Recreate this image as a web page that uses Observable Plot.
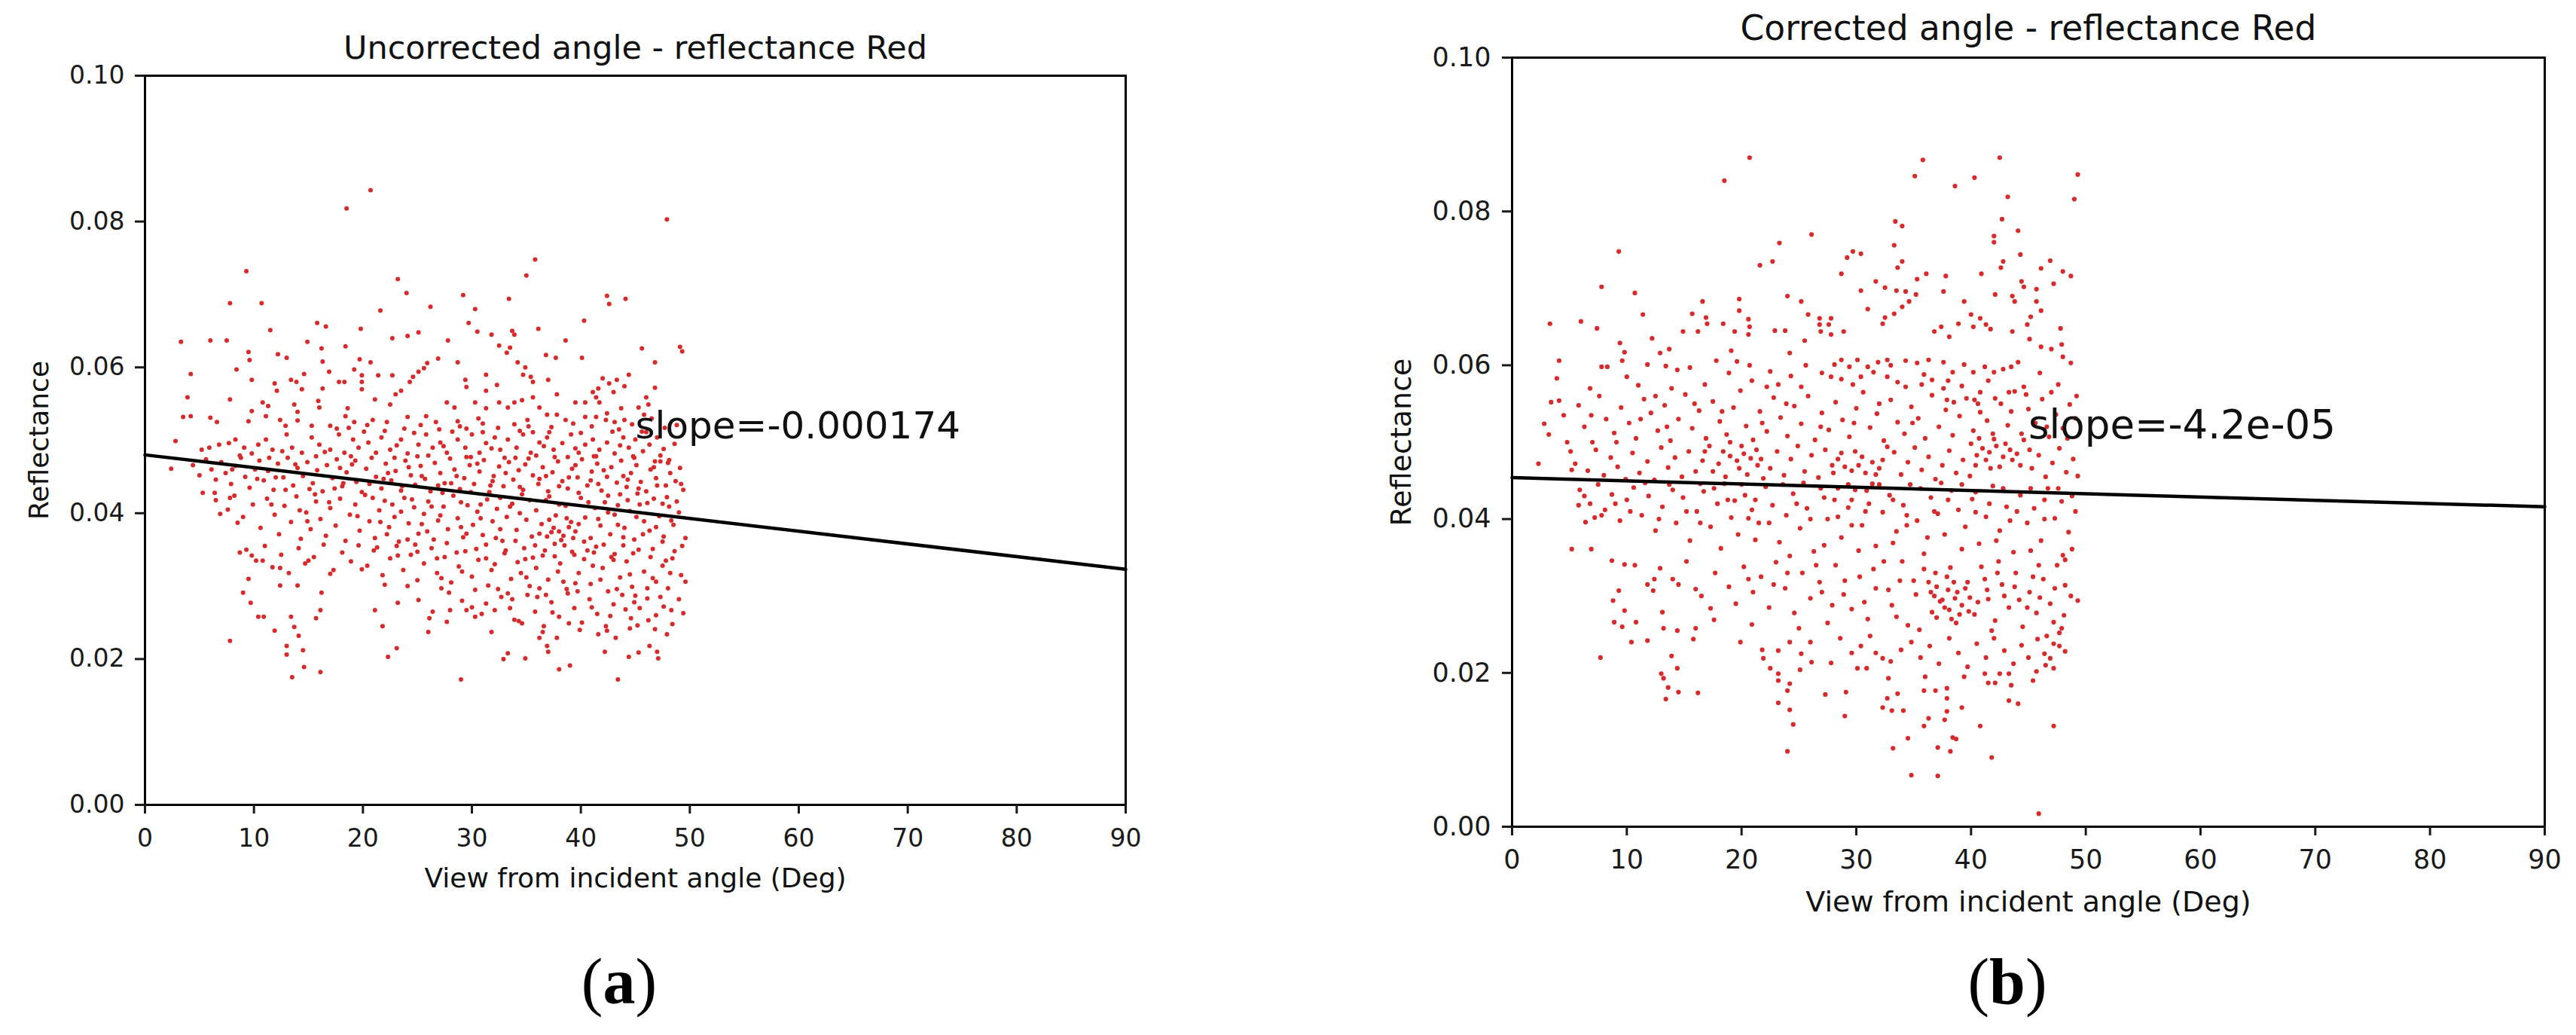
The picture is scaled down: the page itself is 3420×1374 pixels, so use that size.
<!DOCTYPE html>
<html><head><meta charset="utf-8">
<script src="https://cdn.jsdelivr.net/npm/d3@7"></script>
<script src="https://cdn.jsdelivr.net/npm/@observablehq/plot@0.6"></script>
<style>
html,body{margin:0;padding:0;background:#fff;}
#wrap{position:relative;width:3420px;height:1374px;overflow:hidden;background:#fff;}
#wrap > svg{position:absolute;top:0;}
</style></head><body><div id="wrap"></div>
<script>
const xTicks = [0,10,20,30,40,50,60,70,80,90];
const yTicks = [0,0.02,0.04,0.06,0.08,0.10];
const titles = ["Uncorrected angle - reflectance Red", "Corrected angle - reflectance Red"];
const xLabel = "View from incident angle (Deg)";
const yLabel = "Reflectance";
const slopeLabels = ["slope=-0.000174", "slope=-4.2e-05"];
const panelTags = ["a", "b"];
const fitUncorrected = [[0,0.0480],[90,0.0323]];
const fitCorrected = [[0,0.0454],[90,0.0416]];

// (angle in degrees, reflectance) — panel (a)
const uncorrected = [
[20.7,.0843],[18.5,.0818],[47.9,.0803],[9.3,.0732],[35.8,.0748],[35.0,.0726],[23.2,.0721],[24.0,.0702],[7.8,.0688],[10.7,.0688],[29.2,.0699],[33.4,.0694],[42.4,.0698],[42.6,.0687],[44.1,.0694],[30.3,.0680],[26.2,.0683],[21.6,.0678],[40.3,.0664],[36.1,.0653],[33.7,.0650],[33.9,.0645],[29.7,.0661],[30.5,.0649],[31.8,.0645],[15.8,.0661],[16.6,.0656],[19.8,.0653],[11.5,.0651],[3.3,.0635],[6.0,.0637],[7.5,.0637],[14.9,.0635],[16.2,.0626],[18.4,.0629],[22.7,.0640],[24.1,.0643],[25.1,.0648],[27.8,.0637],[38.6,.0637],[45.6,.0626],[49.1,.0628],[49.3,.0622],[46.8,.0607],[46.8,.0572],[40.1,.0613],[37.7,.0613],[36.8,.0617],[33.5,.0627],[33.2,.0620],[32.5,.0630],[26.9,.0612],[28.7,.0607],[4.2,.0591],[8.4,.0597],[9.5,.0621],[9.6,.0610],[12.2,.0618],[13.0,.0613],[3.9,.0559],[7.8,.0556],[3.5,.0532],[4.2,.0533],[6.0,.0531],[6.6,.0525],[9.5,.0526],[44.4,.0590],[42.0,.0585],[42.6,.0578],[43.3,.0583],[44.0,.0574],[41.6,.0571],[43.0,.0566],
[9.8,.0583],[11.9,.0578],[12.1,.0568],[13.4,.0583],[13.9,.0580],[14.4,.0570],[14.6,.0591],[16.3,.0608],[16.9,.0594],[16.3,.0571],[17.8,.0580],[18.3,.0580],[19.7,.0611],[20.7,.0607],[19.2,.0597],[19.9,.0589],[19.9,.0580],[19.9,.0570],[21.4,.0589],[22.7,.0589],[23.0,.0563],[23.5,.0568],[24.3,.0580],[24.6,.0587],[25.1,.0594],[25.6,.0599],[25.9,.0606],[21.1,.0556],[22.5,.0549],[18.6,.0544],[15.9,.0554],[16.0,.0545],[13.7,.0549],[14.0,.0539],[10.8,.0552],[11.3,.0547],[9.8,.0540],[29.4,.0583],[29.5,.0573],[31.3,.0590],[32.3,.0576],[31.3,.0568],[34.2,.0607],[34.9,.0600],[34.7,.0590],[35.4,.0587],[35.6,.0580],[37.0,.0583],[37.8,.0563],[35.6,.0559],[41.1,.0566],[41.4,.0559],[41.7,.0552],[39.5,.0552],[40.4,.0552],[46.0,.0559],[46.2,.0549],[45.3,.0545],[27.7,.0552],[28.4,.0545],[30.3,.0552],[31.3,.0544],[32.5,.0552],[33.3,.0545],[33.9,.0552],[34.6,.0555],[35.1,.0528],[35.2,.0519],[36.2,.0545],[36.9,.0535],[37.8,.0535],[38.6,.0528],[40.4,.0532],[41.4,.0532],[42.4,.0537],[43.7,.0544],[44.0,.0528],[43.1,.0525],[45.8,.0535],[11.1,.0533],[12.4,.0528],[12.9,.0520],[14.0,.0527],[15.3,.0520],[17.0,.0520],[17.6,.0516],[18.4,.0533],[19.2,.0525],[20.9,.0528],[22.2,.0525],[24.1,.0532],[25.8,.0533],[26.7,.0525],[28.7,.0526],[29.5,.0516],[31.0,.0523],
[5.2,.0487],[5.9,.0490],[6.8,.0494],[7.7,.0496],[8.3,.0501],[9.1,.0490],[9.8,.0482],[10.4,.0494],[11.1,.0501],[11.7,.0487],[12.6,.0485],[13.0,.0508],[13.5,.0490],[14.4,.0483],[15.3,.0504],[16.0,.0494],[17.0,.0487],[17.8,.0508],[18.3,.0483],[19.1,.0501],[19.6,.0490],[20.5,.0497],[21.2,.0483],[21.7,.0504],[22.5,.0487],[23.5,.0501],[24.1,.0482],[25.1,.0494],[25.8,.0508],[26.4,.0490],[27.1,.0497],[27.7,.0483],[28.7,.0501],[29.4,.0490],[30.0,.0508],[30.7,.0483],[31.3,.0496],[32.1,.0504],[32.6,.0487],[33.3,.0501],[34.1,.0490],[34.7,.0508],[35.4,.0483],[36.2,.0497],[36.9,.0504],[37.5,.0487],[38.3,.0496],[39.1,.0508],[39.8,.0483],[40.4,.0494],[41.1,.0501],[41.7,.0487],[42.4,.0497],[43.1,.0482],[43.9,.0504],[44.4,.0490],[45.0,.0501],[45.7,.0485],[46.3,.0494],[47.0,.0504],[47.6,.0488],[48.1,.0473],
[18.9,.0478],[20.1,.0512],[22.9,.0476],[24.7,.0510],[26.0,.0479],[28.2,.0512],[29.9,.0477],[31.0,.0511],[33.0,.0476],[34.4,.0513],[35.9,.0479],[37.1,.0511],[38.8,.0477],[40.0,.0510],[41.4,.0478],[42.9,.0512],[44.8,.0478],[46.0,.0511],[47.3,.0479],[48.6,.0495],[43.6,.0493],[39.5,.0489],[36.6,.0492],[31.8,.0489],[27.4,.0492],[23.1,.0493],[15.7,.0478],[11.4,.0476],[8.7,.0479],
[4.4,.0466],[5.0,.0452],[5.6,.0474],[6.1,.0460],[6.5,.0446],[7.0,.0470],[7.4,.0455],[7.9,.0440],[8.3,.0465],[8.8,.0476],[9.2,.0450],[9.6,.0435],[10.1,.0460],[10.5,.0472],[10.9,.0445],[11.3,.0458],[11.8,.0432],[12.2,.0468],[12.7,.0449],[13.1,.0476],[13.6,.0438],[14.0,.0462],[14.5,.0451],[14.9,.0470],[15.4,.0441],[15.8,.0459],[16.3,.0430],[16.7,.0466],[17.2,.0448],[17.6,.0474],[18.1,.0437],[18.5,.0456],[19.0,.0467],[19.4,.0443],[19.9,.0429],[20.3,.0461],[20.8,.0476],[21.2,.0450],[21.7,.0434],[22.1,.0468],[22.6,.0445],[23.0,.0458],[23.5,.0431],[23.9,.0472],[24.4,.0452],[24.8,.0439],[25.3,.0465],[25.7,.0447],[26.2,.0430],[26.6,.0469],[27.1,.0455],[27.5,.0441],[28.0,.0475],[28.4,.0460],[28.9,.0433],[29.3,.0448],[29.8,.0466],[30.2,.0440],[30.7,.0457],[31.1,.0473],[31.6,.0429],[32.0,.0451],[32.5,.0464],[32.9,.0437],[33.4,.0470],[33.8,.0446],[34.3,.0459],[34.7,.0432],[35.2,.0475],[35.6,.0452],[36.1,.0440],[36.5,.0463],[37.0,.0430],[37.4,.0456],[37.9,.0471],[38.3,.0444],[38.8,.0434],[39.2,.0461],[39.7,.0449],[40.1,.0474],[40.6,.0438],[41.0,.0457],[41.5,.0468],[41.9,.0431],[42.4,.0450],[42.8,.0463],[43.3,.0442],[43.7,.0472],[44.2,.0436],[44.6,.0455],[45.1,.0466],[45.5,.0443],[46.0,.0430],[46.4,.0460],[46.9,.0448],[47.3,.0471],[47.8,.0438],[48.2,.0455],[48.7,.0444],[49.1,.0462],[49.4,.0432],
[15.1,.0433],[17.9,.0462],[20.6,.0440],[22.3,.0455],[24.2,.0463],[26.9,.0438],[28.6,.0451],[30.5,.0468],[31.9,.0444],[33.1,.0455],[34.9,.0467],[36.8,.0451],[38.0,.0437],[39.5,.0466],[40.9,.0445],[42.1,.0459],[43.9,.0451],[45.3,.0434],[46.7,.0463],[48.0,.0469],[44.9,.0476],[41.2,.0478],[37.6,.0477],[34.0,.0476],[29.5,.0477],[25.0,.0478],
[6.5,.0418],[7.6,.0405],[8.2,.0424],[9.0,.0395],[9.9,.0412],[10.6,.0380],[11.2,.0420],[11.9,.0398],[12.3,.0371],[12.8,.0410],[13.4,.0388],[13.9,.0423],[14.3,.0365],[14.8,.0401],[15.2,.0378],[15.7,.0416],[16.1,.0392],[16.6,.0369],[17.0,.0407],[17.5,.0383],[17.9,.0420],[18.4,.0362],[18.8,.0398],[19.3,.0412],[19.7,.0376],[20.2,.0425],[20.6,.0389],[21.1,.0366],[21.5,.0404],[22.0,.0417],[22.4,.0381],[22.9,.0395],[23.3,.0361],[23.8,.0421],[24.2,.0386],[24.7,.0408],[25.1,.0372],[25.6,.0399],[26.0,.0416],[26.5,.0364],[26.9,.0390],[27.4,.0409],[27.8,.0378],[28.3,.0424],[28.7,.0393],[29.2,.0367],[29.6,.0411],[30.1,.0384],[30.5,.0402],[31.0,.0370],[31.4,.0419],[31.9,.0389],[32.3,.0406],[32.8,.0362],[33.2,.0395],[33.7,.0413],[34.1,.0377],[34.6,.0426],[35.0,.0391],[35.5,.0368],[35.9,.0404],[36.4,.0385],[36.8,.0418],[37.3,.0374],[37.7,.0397],[38.2,.0363],[38.6,.0410],[39.1,.0388],[39.5,.0375],[40.0,.0421],[40.4,.0394],[40.9,.0366],[41.3,.0407],[41.8,.0383],[42.2,.0415],[42.7,.0371],[43.1,.0398],[43.6,.0426],[44.0,.0380],[44.5,.0403],[44.9,.0364],[45.4,.0412],[45.8,.0389],[46.3,.0376],[46.7,.0420],[47.2,.0396],[47.6,.0368],[48.1,.0409],[48.5,.0384],[49.0,.0401],
[36.2,.0372],[36.9,.0368],[37.5,.0380],[38.0,.0375],[38.4,.0369],[38.9,.0381],[39.3,.0366],[37.1,.0391],[38.7,.0393],[39.8,.0385],[21.6,.0388],[23.5,.0402],[25.4,.0385],[27.1,.0397],[29.0,.0381],[30.8,.0393],[32.6,.0378],[34.4,.0400],[41.6,.0392],[43.4,.0384],[45.1,.0395],[46.9,.0381],[48.3,.0390],[42.5,.0401],[44.3,.0418],[47.5,.0413],
[9.3,.0350],[10.2,.0335],[11.0,.0355],[11.7,.0326],[12.5,.0343],[13.2,.0318],[14.1,.0352],[14.7,.0331],[15.5,.0340],[16.4,.0357],[17.3,.0322],[18.1,.0346],[18.9,.0334],[19.6,.0356],[20.4,.0328],[21.0,.0349],[21.8,.0315],[22.5,.0338],[23.1,.0355],[23.7,.0322],[24.4,.0343],[25.0,.0308],[25.6,.0331],[26.3,.0352],[26.8,.0318],[27.5,.0340],[28.1,.0305],[28.8,.0327],[29.4,.0348],[30.0,.0313],[30.6,.0336],[31.3,.0357],[31.8,.0322],[32.4,.0296],[33.0,.0345],[33.6,.0310],[34.2,.0333],[34.8,.0352],[35.3,.0300],[35.9,.0325],[36.5,.0342],[37.0,.0309],[37.6,.0358],[38.1,.0331],[38.7,.0296],[39.2,.0347],[39.8,.0318],[40.3,.0337],[40.9,.0303],[41.4,.0354],[42.0,.0325],[42.5,.0293],[43.1,.0344],[43.6,.0312],[44.2,.0334],[44.7,.0299],[45.3,.0350],[45.8,.0320],[46.4,.0340],[46.9,.0306],[47.5,.0328],[48.0,.0297],[48.6,.0348],[49.2,.0315],
[30.3,.0295],[32.1,.0330],[34.5,.0318],[36.2,.0297],[37.9,.0320],[39.5,.0304],[41.1,.0328],[42.8,.0340],[44.5,.0316],[46.1,.0297],[47.8,.0335],[35.6,.0339],[40.6,.0349],[43.9,.0356],[29.1,.0320],[27.2,.0297],[24.8,.0357],[22.0,.0302],
[29.1,.0280],[30.9,.0262],[32.7,.0285],[33.5,.0270],[34.3,.0252],[35.1,.0288],[35.8,.0265],[36.6,.0245],[37.3,.0278],[38.0,.0258],[38.8,.0290],[39.4,.0270],[40.1,.0250],[40.8,.0282],[41.5,.0262],[42.3,.0245],[43.0,.0275],[43.8,.0288],[44.6,.0256],[45.4,.0270],[46.1,.0283],[46.9,.0260],[47.6,.0272],[48.4,.0248],[49.0,.0282],[36.0,.0285],[39.9,.0240],[42.7,.0259],[44.1,.0268],
[2.4,.0461],[2.8,.0499],[5.3,.0428],[6.4,.0428],[7.8,.0421],[6.9,.0399],[8.5,.0387],[8.7,.0346],[9.8,.0342],[10.8,.0335],[9.5,.0310],[9.0,.0291],[9.7,.0277],[10.4,.0258],[10.9,.0258],[7.8,.0225],[12.4,.0301],[14.0,.0301],[11.9,.0239],[13.4,.0258],[13.7,.0244],[14.1,.0232],[13.0,.0218],[13.0,.0206],[14.5,.0212],[14.6,.0189],[13.5,.0175],[16.1,.0182],[16.2,.0291],[15.7,.0256],[16.1,.0267],[12.4,.0325],[17.0,.0317],[15.0,.0335],[19.9,.0323],[21.1,.0267],[21.8,.0245],[23.2,.0277],[23.1,.0215],[22.3,.0203],[24.1,.0300],[25.1,.0281],[26.1,.0256],[26.4,.0265],[26.0,.0237],[27.9,.0291],[28.0,.0267],[27.7,.0251],[29.0,.0172],[27.2,.0311],[29.5,.0267],[30.3,.0258],[31.8,.0237],[31.3,.0276],[32.1,.0267],[32.9,.0200],[33.3,.0208],[34.9,.0201],[34.6,.0249],[33.9,.0254],[36.5,.0237],[36.2,.0229],[36.9,.0218],[37.0,.0210],[37.8,.0229],[38.0,.0186],[39.0,.0191],[41.6,.0234],[42.4,.0239],[43.2,.0229],[42.2,.0210],[43.4,.0172],[44.4,.0203],[45.3,.0209],[46.3,.0218],[47.0,.0210],[47.1,.0201],[44.5,.0242],[45.2,.0246],[46.8,.0241],[47.9,.0234],[49.4,.0263],[48.3,.0267],[49.6,.0306],[49.6,.0366],[49.2,.0440],[46.8,.0471],
[20.9,.0421],[21.9,.0447],[22.7,.0412],[23.6,.0437],[24.5,.0419],[25.4,.0451],[26.3,.0409],[27.3,.0428],[28.1,.0441],[29.0,.0415],[29.9,.0429],[30.8,.0412],[31.7,.0438],[32.6,.0421],[33.5,.0409],[34.4,.0436],[35.3,.0418],[36.2,.0447],[37.1,.0423],[38.0,.0412],[38.9,.0449],[39.8,.0428],[40.7,.0415],[41.6,.0440],[42.5,.0424],[43.4,.0411],[44.3,.0446],[45.2,.0427],[46.1,.0414],[47.0,.0438],[47.9,.0422],[48.8,.0416],
[21.3,.0353],[22.2,.0371],[23.2,.0342],[24.1,.0364],[25.0,.0347],[25.9,.0375],[26.8,.0338],[27.7,.0359],[28.6,.0346],[29.5,.0372],[30.4,.0351],[31.3,.0338],[32.2,.0366],[33.1,.0349],[34.0,.0362],[34.9,.0337],[35.8,.0356],[36.7,.0349],[37.6,.0341],[38.5,.0356],[39.4,.0343],[40.3,.0361],[41.2,.0346],[42.1,.0357],[43.0,.0336],[43.9,.0367],[44.8,.0345],[45.7,.0371],[46.6,.0351],[47.5,.0361],[48.4,.0338],[49.3,.0355],
[31.5,.0301],[33.3,.0290],[35.0,.0312],[36.8,.0288],[38.4,.0306],[39.7,.0293],[41.8,.0309],[43.3,.0296],[45.0,.0287],[46.6,.0311],[48.2,.0318],[37.4,.0264],[41.0,.0271],[44.9,.0278],[47.3,.0285],[33.7,.0282],[30.0,.0271],[38.9,.0249],[46.2,.0253],
[10.3,.0447],[11.6,.0412],[12.9,.0432],[14.2,.0404],[15.6,.0426],[16.9,.0415],[18.2,.0441],[19.5,.0396],[13.8,.0467],[16.5,.0484],[19.3,.0472],[8.0,.0460],[17.4,.0434],[14.9,.0389],[12.0,.0449],
[42.3,.0528],[43.5,.0515],[44.7,.0522],[45.6,.0512],[46.5,.0530],[47.7,.0517],[48.8,.0521],[41.0,.0519],[39.3,.0523],[37.3,.0518],[35.6,.0511],[33.9,.0522],[32.4,.0517],[30.6,.0530],[28.9,.0519],[27.0,.0515],[25.3,.0521],[23.8,.0516],[22.0,.0513],[20.4,.0521],[18.7,.0517]
];

// (angle in degrees, reflectance) — panel (b)
const corrected = [
[20.7,.0870],[18.5,.0840],[35.8,.0867],[42.5,.0870],[35.1,.0846],[40.3,.0844],[38.6,.0833],[49.3,.0848],[49.0,.0816],[43.2,.0819],[42.7,.0790],[33.4,.0787],[34.0,.0781],[44.1,.0775],[42.0,.0768],[42.0,.0760],[26.1,.0770],[23.3,.0759],[9.3,.0748],[33.3,.0756],[29.7,.0748],[29.2,.0740],[30.4,.0745],[21.6,.0730],[22.7,.0735],[34.0,.0735],[33.6,.0727],[44.3,.0744],[42.8,.0735],[42.6,.0727],[46.9,.0736],[46.1,.0726],[48.0,.0722],[48.7,.0716],[28.7,.0719],[36.1,.0719],[35.3,.0712],[37.8,.0716],[40.9,.0719],[31.7,.0709],[32.5,.0701],[44.4,.0709],[44.6,.0702],[45.7,.0699],[47.2,.0706],[7.8,.0702],[10.7,.0694],[30.4,.0697],[33.5,.0697],[34.3,.0696],[35.2,.0692],[37.6,.0696],[24.0,.0690],[25.2,.0683],[16.6,.0683],[19.8,.0686],[19.8,.0671],[39.4,.0683],[42.1,.0692],[43.6,.0690],[43.8,.0683],[34.6,.0683],[34.0,.0676],[33.3,.0667],[32.5,.0662],[31.0,.0673],[11.4,.0666],[3.3,.0654],[6.0,.0657],[7.4,.0648],[15.7,.0667],[16.9,.0662],[17.0,.0654],[18.4,.0654],[20.6,.0660],[20.7,.0650],[25.8,.0666],[26.8,.0661],[27.8,.0661],[26.8,.0653],[27.6,.0653],[22.9,.0645],[23.8,.0645],[14.9,.0644],[16.2,.0644],[19.4,.0644],[20.6,.0640],[26.9,.0644],[27.8,.0640],[28.9,.0644],[32.3,.0654],[47.8,.0648],[12.2,.0635],[9.4,.0629],[9.8,.0617],[9.6,.0606],[13.7,.0621],[12.9,.0616],[13.4,.0599],[4.1,.0606],[7.8,.0598],[8.3,.0598],[3.9,.0583],[3.4,.0552],[4.1,.0554],[2.8,.0524],[2.3,.0472],[5.2,.0464],[11.0,.0574],[11.8,.0601],[14.4,.0594],[15.5,.0597],[17.8,.0606],[19.6,.0605],[20.7,.0600],[19.1,.0619],[24.2,.0616],[25.5,.0632],[22.5,.0592],[20.9,.0580],[22.2,.0572],[23.2,.0575],[24.3,.0586],[25.2,.0572],
[40.0,.0666],[40.8,.0661],[41.3,.0653],[38.9,.0654],[40.2,.0650],[41.7,.0647],[37.4,.0650],[36.8,.0644],[38.1,.0637],[45.2,.0663],[44.9,.0653],[46.1,.0671],[45.7,.0683],[43.6,.0644],[45.1,.0634],[46.1,.0624],[47.0,.0621],[47.9,.0627],[48.0,.0611],[48.7,.0603],[49.2,.0560],[44.1,.0604],[43.5,.0598],[42.8,.0595],[41.2,.0598],[42.0,.0591],[40.2,.0591],[39.4,.0601],[38.4,.0591],[37.6,.0604],[36.3,.0607],[35.3,.0603],[34.3,.0606],[32.7,.0607],[31.9,.0604],[31.0,.0598],[31.5,.0591],[30.1,.0607],[29.4,.0598],[28.7,.0607],[28.1,.0601],[27.8,.0585],[28.7,.0582],[29.7,.0575],[32.7,.0585],[33.6,.0578],[34.3,.0572],[35.9,.0588],[36.6,.0581],[37.6,.0570],[39.2,.0573],[40.8,.0565],[42.1,.0557],[43.3,.0565],[44.6,.0572],[44.8,.0562],[47.0,.0565],[40.3,.0555],[38.5,.0552],
[3.2,.0510],[4.5,.0535],[5.1,.0488],[5.8,.0548],[6.3,.0520],[7.0,.0500],[7.6,.0560],[8.2,.0530],[8.9,.0512],[9.5,.0545],[10.2,.0525],[10.8,.0505],[11.5,.0556],[12.1,.0538],[12.7,.0515],[13.3,.0548],[13.8,.0502],[14.5,.0530],[15.1,.0562],[15.7,.0518],[16.3,.0541],[16.9,.0505],[17.5,.0553],[18.1,.0527],[18.7,.0510],[19.3,.0545],[19.9,.0567],[20.4,.0521],[21.0,.0503],[21.6,.0540],[22.2,.0514],[22.8,.0558],[23.4,.0532],[24.0,.0508],[24.6,.0547],[25.2,.0524],[25.8,.0560],[26.4,.0503],[27.0,.0538],[27.6,.0516],[28.2,.0552],[28.8,.0529],[29.4,.0507],[30.0,.0544],[30.6,.0565],[31.2,.0519],[31.8,.0537],[32.4,.0502],[33.0,.0555],[33.6,.0526],[34.2,.0511],[34.8,.0546],[35.4,.0531],[36.0,.0505],[36.6,.0561],[37.2,.0520],[37.8,.0542],[38.4,.0509],[39.0,.0534],[39.6,.0557],[40.2,.0515],[40.8,.0539],[41.4,.0528],[42.0,.0504],[42.6,.0550],[43.2,.0522],[43.8,.0566],[44.4,.0511],[45.0,.0543],[45.6,.0525],[46.2,.0556],[46.8,.0507],[47.4,.0536],[48.0,.0518],[48.6,.0549],[49.1,.0531],
[17.2,.0495],[18.4,.0488],[19.0,.0482],[19.6,.0476],[20.2,.0485],[20.8,.0479],[21.3,.0490],[18.0,.0472],[29.0,.0468],[29.6,.0463],[30.2,.0470],[30.8,.0460],[31.4,.0474],[28.4,.0478],[32.0,.0466],[40.5,.0483],[41.0,.0492],[41.6,.0487],[42.2,.0495],[42.8,.0481],[43.4,.0490],[44.0,.0485],[41.3,.0477],[43.0,.0498],[44.6,.0503],[40.0,.0498],
[5.5,.0472],[6.6,.0463],[7.3,.0490],[8.0,.0457],[8.6,.0480],[9.2,.0468],[9.9,.0452],[10.5,.0486],[11.1,.0460],[11.8,.0475],[12.4,.0451],[13.0,.0493],[13.6,.0467],[14.2,.0480],[14.8,.0455],[15.4,.0488],[16.0,.0462],[16.6,.0476],[22.5,.0466],[23.1,.0488],[23.7,.0457],[24.3,.0478],[24.9,.0495],[25.5,.0462],[26.1,.0483],[26.7,.0454],[27.3,.0490],[27.9,.0470],[33.3,.0487],[33.9,.0458],[34.5,.0474],[35.1,.0493],[35.7,.0464],[36.3,.0481],[36.9,.0452],[37.5,.0470],[38.1,.0489],[38.7,.0460],[39.3,.0477],[45.3,.0466],[45.9,.0483],[46.5,.0455],[47.1,.0473],[47.7,.0492],[48.3,.0461],[48.9,.0478],[49.3,.0456],[21.9,.0453],[32.7,.0494],[39.9,.0456],
[5.9,.0438],[6.8,.0420],[7.5,.0445],[8.1,.0412],[8.7,.0432],[9.4,.0398],[10.0,.0425],[10.6,.0441],[11.3,.0405],[11.9,.0430],[12.5,.0385],[13.1,.0416],[13.7,.0445],[14.3,.0395],[14.9,.0428],[15.5,.0372],[16.1,.0410],[16.7,.0436],[17.3,.0390],[17.9,.0420],[18.5,.0446],[19.1,.0402],[19.7,.0380],[20.3,.0431],[20.9,.0412],[21.5,.0395],[22.1,.0442],[22.7,.0418],[23.3,.0370],[23.9,.0405],[24.5,.0433],[25.1,.0388],[25.7,.0414],[26.3,.0358],[26.9,.0440],[27.5,.0400],[28.1,.0425],[28.7,.0376],[29.3,.0415],[29.9,.0438],[30.5,.0392],[31.1,.0420],[31.7,.0365],[32.3,.0409],[32.9,.0431],[33.5,.0384],[34.1,.0418],[34.7,.0445],[35.3,.0398],[35.9,.0355],[36.5,.0428],[37.1,.0407],[37.7,.0380],[38.3,.0437],[38.9,.0412],[39.5,.0390],[40.1,.0426],[40.7,.0368],[41.3,.0403],[41.9,.0443],[42.5,.0385],[43.1,.0416],[43.7,.0357],[44.3,.0431],[44.9,.0395],[45.5,.0414],[46.1,.0372],[46.7,.0440],[47.3,.0401],[47.9,.0423],[48.5,.0383],[49.1,.0410],[18.2,.0362],[21.2,.0373],[24.2,.0352],[27.2,.0366],[30.2,.0359],[33.2,.0369],[36.2,.0376],[39.2,.0361],[42.2,.0372],[45.2,.0359],[48.2,.0347],[16.4,.0446],[19.4,.0424],[25.4,.0447],[28.4,.0403],[31.4,.0446],[34.4,.0392],[37.4,.0447],[40.4,.0409],[43.4,.0398],[46.4,.0425],[20.6,.0401],[29.6,.0392],
[12.9,.0336],[14.0,.0322],[15.2,.0345],[16.5,.0300],[17.7,.0330],[18.9,.0312],[19.5,.0290],[20.2,.0338],[21.0,.0305],[21.7,.0325],[22.4,.0285],[23.0,.0344],[23.8,.0310],[24.6,.0278],[25.3,.0330],[26.0,.0297],[26.8,.0318],[27.5,.0265],[28.2,.0340],[28.9,.0302],[29.6,.0283],[30.3,.0325],[31.0,.0270],[31.7,.0310],[32.4,.0345],[33.1,.0288],[33.8,.0320],[34.5,.0262],[35.2,.0302],[35.9,.0335],[36.6,.0279],[37.0,.0312],[37.5,.0295],[37.9,.0325],[38.3,.0270],[38.8,.0305],[39.2,.0288],[39.7,.0318],[40.3,.0276],[40.9,.0338],[41.5,.0296],[42.1,.0268],[42.7,.0315],[43.3,.0285],[43.9,.0330],[44.5,.0260],[45.1,.0305],[45.7,.0278],[46.3,.0322],[46.9,.0290],[47.5,.0340],[48.1,.0275],[48.7,.0300],[36.8,.0300],[37.7,.0285],[38.5,.0318],[39.0,.0276],[39.9,.0298],[36.3,.0318],[38.0,.0308],[41.2,.0322],[42.4,.0345],[44.2,.0295],[45.9,.0340],[30.7,.0292],[27.9,.0288],[25.0,.0258],[33.5,.0273],[35.5,.0256],[41.8,.0255],[47.9,.0258],
[28.6,.0245],[30.4,.0235],[31.2,.0248],[33.9,.0230],[34.8,.0240],[35.6,.0220],[36.4,.0235],[37.2,.0212],[38.1,.0245],[38.9,.0226],[39.7,.0208],[40.5,.0238],[41.3,.0220],[42.0,.0245],[42.9,.0229],[43.7,.0212],[44.4,.0236],[45.0,.0220],[45.8,.0244],[46.5,.0210],[48.2,.0228],[39.4,.0195],[36.0,.0195],[33.0,.0215],
[5.2,.0361],[6.9,.0361],[7.7,.0220],[5.8,.0418],[6.4,.0396],[7.8,.0405],[8.7,.0346],[9.8,.0341],[10.7,.0340],[9.3,.0307],[8.8,.0294],[9.8,.0281],[8.9,.0266],[9.6,.0260],[10.8,.0266],[10.4,.0240],[11.8,.0242],[13.1,.0279],[13.2,.0258],[14.4,.0255],[13.9,.0222],[14.4,.0206],[13.0,.0199],[13.2,.0193],[13.6,.0181],[13.4,.0166],[14.5,.0175],[16.2,.0174],[16.0,.0258],[15.8,.0244],[11.8,.0315],[12.3,.0307],[14.5,.0315],[16.0,.0309],[12.4,.0322],[17.3,.0284],[17.6,.0269],[19.9,.0240],[20.9,.0263],[21.8,.0230],[23.2,.0229],[21.9,.0219],[22.5,.0206],[23.2,.0199],[23.2,.0190],[24.2,.0186],[24.0,.0177],[23.2,.0161],[24.2,.0152],[24.5,.0133],[24.0,.0098],[24.2,.0240],[25.2,.0225],[26.1,.0214],[25.1,.0204],[26.0,.0240],[27.8,.0213],[27.3,.0172],[29.1,.0175],[29.0,.0144],[29.6,.0226],[30.1,.0206],[30.9,.0206],[31.7,.0226],[32.3,.0219],[32.8,.0193],[32.7,.0167],[32.3,.0155],[33.1,.0151],[34.1,.0151],[33.6,.0173],[34.5,.0115],[33.2,.0102],[34.8,.0067],[37.1,.0066],[35.9,.0131],[36.3,.0141],[37.7,.0139],[37.9,.0150],[39.2,.0155],[37.1,.0103],[38.2,.0098],[38.4,.0116],[38.7,.0114],[35.9,.0177],[36.9,.0177],[37.9,.0180],[37.9,.0167],[40.8,.0131],[41.8,.0090],[45.9,.0017],[47.2,.0131],[43.3,.0164],[44.1,.0160],[45.4,.0190],[41.5,.0187],[42.1,.0187],[43.5,.0184],[41.2,.0199],[42.5,.0199],[43.3,.0199],[45.7,.0202],[47.2,.0206],[46.9,.0219],[46.4,.0225],[47.7,.0235],[47.2,.0238],[46.6,.0248],[47.7,.0252],[49.3,.0294],[48.8,.0361],[48.0,.0353],[48.2,.0314],[47.2,.0266],
[17.5,.0462],[18.6,.0455],[19.8,.0466],[20.5,.0458],[21.4,.0470],[16.8,.0488],[19.0,.0500],[20.0,.0495],[21.7,.0478],[28.7,.0486],[29.9,.0488],[30.5,.0481],[31.7,.0458],[32.3,.0477],[28.0,.0460],[29.3,.0445],[30.9,.0437],[40.7,.0505],[41.9,.0511],[43.6,.0477],[44.3,.0470],[42.5,.0468],[40.4,.0470],[45.1,.0490],[41.7,.0466],
[36.5,.0305],[37.3,.0293],[38.1,.0282],[38.6,.0297],[39.5,.0310],[37.0,.0272],[38.7,.0265],[39.8,.0280],[36.9,.0330],[38.2,.0337],[40.6,.0292],[41.4,.0308],[42.9,.0300],[43.8,.0312],[44.9,.0285],[46.0,.0298],[47.3,.0310],[45.4,.0325],[42.3,.0330],
[6.3,.0430],[7.2,.0402],[9.0,.0420],[10.3,.0410],[11.6,.0447],[12.8,.0400],[14.0,.0438],[15.2,.0410],[16.4,.0395],[17.6,.0440],[18.8,.0425],[20.0,.0445],[21.2,.0425],[22.4,.0395],[23.6,.0445],[24.8,.0420],[26.0,.0400],[27.2,.0428],[28.4,.0440],[29.6,.0425],[30.8,.0410],[32.0,.0445],[33.2,.0425],[34.4,.0405],[35.6,.0440],[36.8,.0410],[38.0,.0425],[39.2,.0445],[40.4,.0435],[41.6,.0420],[42.8,.0440],[44.0,.0410],[45.2,.0440],[46.4,.0400],[47.6,.0440],[48.8,.0430],
[24.0,.0330],[26.5,.0340],[29.0,.0320],[31.5,.0335],[34.0,.0345],[35.0,.0320],[32.8,.0308],[27.0,.0305],[22.8,.0315],[20.6,.0322],
[4.8,.0500],[6.9,.0535],[9.1,.0500],[11.2,.0530],[13.5,.0520],[15.9,.0550],[18.3,.0540],[21.8,.0525],[23.9,.0550],[26.9,.0520],[29.8,.0525],[32.0,.0550],[34.9,.0525],[37.9,.0555],[40.6,.0550],[43.5,.0540],[46.6,.0520],[48.4,.0505],
[25.6,.0600],[27.0,.0590],[30.4,.0585],[33.0,.0600],[35.7,.0575],[38.0,.0580],[41.5,.0580],[46.0,.0590],[47.6,.0575],[16.8,.0575],[18.9,.0590],[13.9,.0570],[10.0,.0585],[6.8,.0570],[12.5,.0560]
];

const layouts = [
  {left: 0, w: 1710, mL: 192, mR: 216, mT: 100, mB: 306, tick: 33, label: 36, title: 43, slope: 50,
   padX: 20, padY: 14, titleDy: -36, xlabelDy: 97.5, ylabelDx: -140.5, slopeDy: -19, r: 3.0, lw: 4.5, tagX: 822},
  {left: 1710, w: 1710, mL: 297, mR: 42, mT: 76, mB: 277, tick: 35, label: 38, title: 45.5, slope: 53,
   padX: 19, padY: 15, titleDy: -37.6, xlabelDy: 100.8, ylabelDx: -147, slopeDy: -22, r: 3.1, lw: 4.5, tagX: 2665}
];

function panel(cfg, pts, fit, title, slopeText) {
  return Plot.plot({
    width: cfg.w, height: 1374,
    marginLeft: cfg.mL, marginRight: cfg.mR, marginTop: cfg.mT, marginBottom: cfg.mB,
    style: {fontFamily: "DejaVu Sans", fontSize: cfg.tick + "px", color: "#1a1a1a", background: "transparent", overflow: "visible"},
    x: {domain: [0, 90]},
    y: {domain: [0, 0.1]},
    marks: [
      Plot.dot(pts, {x: d => d[0], y: d => d[1], r: cfg.r, fill: "#d82a2a", stroke: null}),
      Plot.line(fit, {x: d => d[0], y: d => d[1], stroke: "#000", strokeWidth: cfg.lw}),
      Plot.text([slopeText], {x: () => 45, y: () => 0.05, text: d => d, textAnchor: "start", lineAnchor: "middle",
        dy: cfg.slopeDy, fontSize: cfg.slope, fill: "#111"}),
      Plot.frame({stroke: "#000", strokeWidth: 3}),
      Plot.axisX({ticks: xTicks, tickSize: 12, tickPadding: cfg.padX, tickFormat: d3.format("d"), label: null, strokeWidth: 3}),
      Plot.axisY({ticks: yTicks, tickSize: 13, tickPadding: cfg.padY, tickFormat: d3.format(".2f"), label: null, strokeWidth: 3}),
      Plot.text([title], {frameAnchor: "top", dy: cfg.titleDy, text: d => d, fontSize: cfg.title, lineAnchor: "middle", fill: "#111"}),
      Plot.text([xLabel], {frameAnchor: "bottom", dy: cfg.xlabelDy, text: d => d, fontSize: cfg.label, lineAnchor: "middle", fill: "#111"}),
      Plot.text([yLabel], {frameAnchor: "left", dx: cfg.ylabelDx, rotate: -90, text: d => d, fontSize: cfg.label, lineAnchor: "middle", textAnchor: "middle", fill: "#111"})
    ]
  });
}

const wrap = document.getElementById("wrap");
const sets = [[uncorrected, fitUncorrected], [corrected, fitCorrected]];
layouts.forEach((cfg, i) => {
  const svg = panel(cfg, sets[i][0], sets[i][1], titles[i], slopeLabels[i]);
  svg.style.left = cfg.left + "px";
  wrap.appendChild(svg);
});

// sub-figure tags (a), (b)
const overlay = d3.create("svg").attr("width", 3420).attr("height", 1374)
  .style("left", "0px").style("pointer-events", "none");
layouts.forEach((cfg, i) => {
  const t = overlay.append("text").attr("x", cfg.tagX).attr("y", 1332)
    .attr("text-anchor", "middle").attr("font-family", "Liberation Serif, Times New Roman, serif")
    .attr("font-size", 86).attr("fill", "#000");
  t.append("tspan").text("(");
  t.append("tspan").attr("font-weight", "bold").text(panelTags[i]);
  t.append("tspan").text(")");
});
wrap.appendChild(overlay.node());
</script>
</body></html>
